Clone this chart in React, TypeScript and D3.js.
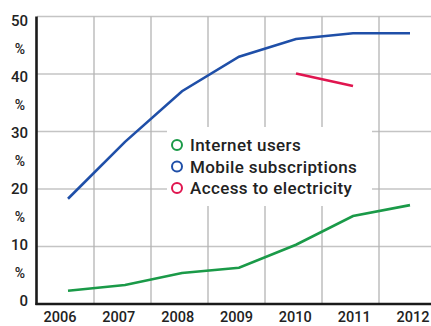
import React from "react";
import * as d3 from "d3";

const years = [2006, 2007, 2008, 2009, 2010, 2011, 2012];
const internetUsers = [2.3, 3.3, 5.4, 6.3, 10.3, 15.3, 17.2];
const mobileSubs = [18.3, 28.2, 37.0, 43.0, 46.1, 47.1, 47.1];
const electricityYears = [2010, 2011];
const electricity = [40.1, 37.9];
const yTicks = [0, 10, 20, 30, 40, 50];
const pctTicks = [5, 15, 25, 35, 45];
const legendItems = [
  { label: "Internet users", color: "#1a9a48" },
  { label: "Mobile subscriptions", color: "#1f4fa8" },
  { label: "Access to electricity", color: "#e0154f" },
];

const W = 431;
const H = 326;
const FONT = "Roboto, 'DejaVu Sans', sans-serif";

export default function App() {
  const y = d3.scaleLinear().domain([0, 50]).range([304, 16.5]);
  const yLab = d3.scaleLinear().domain([0, 50]).range([300.5, 20.5]);
  const xData = d3.scaleLinear().domain([2006, 2012]).range([68, 410]);
  const xLabel = d3.scaleLinear().domain([2006, 2012]).range([60, 413]);
  const gridXs = [2007, 2008, 2009, 2010, 2011, 2012].map((yr) => xData(yr) - 31);

  const line = d3
    .line<[number, number]>()
    .x((d) => xData(d[0]))
    .y((d) => y(d[1]))
    .curve(d3.curveLinear);

  const internetPath = line(years.map((yr, i) => [yr, internetUsers[i]]));
  const mobilePath = line(years.map((yr, i) => [yr, mobileSubs[i]]));
  const elecPath = line(electricityYears.map((yr, i) => [yr, electricity[i]]));

  return (
    <svg
      width={W}
      height={H}
      style={{ position: "absolute", left: 0, top: 0, background: "#fff" }}
    >
      {/* horizontal gridlines */}
      {yTicks.slice(1).map((t) => (
        <line key={"h" + t} x1={37} x2={W} y1={y(t)} y2={y(t)} stroke="#c4c4c4" strokeWidth={1.3} />
      ))}
      {/* vertical gridlines */}
      {gridXs.map((gx, i) => (
        <line key={"v" + i} x1={gx} x2={gx} y1={y(50)} y2={y(0)} stroke="#b4b4b4" strokeWidth={1.3} />
      ))}
      {/* legend background */}
      <rect x={167} y={127} width={205} height={79} fill="#fff" />

      {/* series */}
      <path d={internetPath || ""} fill="none" stroke="#1a9a48" strokeWidth={2.6} />
      <path d={mobilePath || ""} fill="none" stroke="#1f4fa8" strokeWidth={2.6} />
      <path d={elecPath || ""} fill="none" stroke="#e0154f" strokeWidth={2.6} />

      {/* axes */}
      <line x1={36.5} x2={36.5} y1={y(50)} y2={y(0) + 1} stroke="#1a1a1a" strokeWidth={2.6} />
      <line x1={35.5} x2={W} y1={y(0)} y2={y(0)} stroke="#1a1a1a" strokeWidth={2.6} />

      {/* y tick labels */}
      {yTicks.map((t) => (
        <text
          key={"yt" + t}
          x={28}
          y={yLab(t)}
          textAnchor="end"
          dominantBaseline="central"
          fontFamily={FONT}
          fontWeight={500}
          fontSize={15}
          fill="#222"
        >
          {t}
        </text>
      ))}
      {pctTicks.map((t) => (
        <text
          key={"pt" + t}
          x={20}
          y={yLab(t)}
          textAnchor="middle"
          dominantBaseline="central"
          fontFamily={FONT}
          fontWeight={500}
          fontSize={14}
          fill="#222"
        >
          %
        </text>
      ))}

      {/* x tick labels */}
      {years.map((yr) => (
        <text
          key={"xt" + yr}
          x={xLabel(yr)}
          y={321.5}
          textAnchor="middle"
          fontFamily={FONT}
          fontWeight={500}
          fontSize={14.5}
          fill="#222"
        >
          {yr}
        </text>
      ))}

      {/* legend */}
      {legendItems.map((it, i) => (
        <g key={it.label} transform={`translate(177, ${145 + i * 21.5})`}>
          <circle r={5} fill="none" stroke={it.color} strokeWidth={2} />
          <text
            x={13}
            y={0}
            dominantBaseline="central"
            fontFamily={FONT}
            fontWeight={500}
            fontSize={17}
            letterSpacing={0.4}
            fill="#222"
          >
            {it.label}
          </text>
        </g>
      ))}
    </svg>
  );
}
